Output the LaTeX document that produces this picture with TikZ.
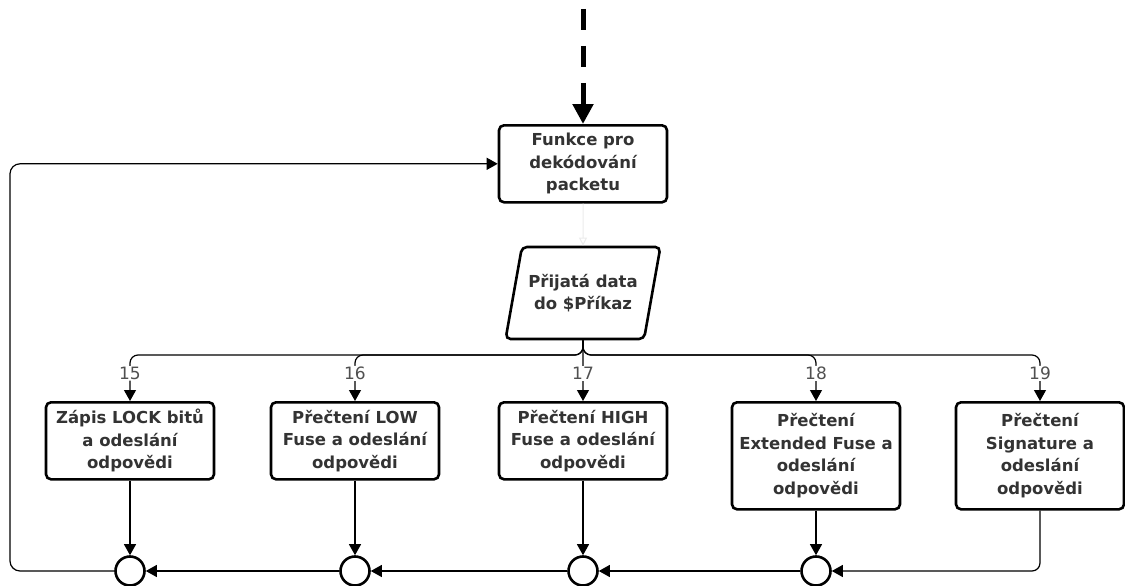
\documentclass[tikz,border=0pt]{standalone}
\usepackage{fontspec}
\setmainfont{DejaVu Sans}
\definecolor{textgray}{RGB}{51,51,51}
\definecolor{labelgray}{RGB}{80,80,80}
\usetikzlibrary{shapes.geometric,arrows.meta,calc}

\tikzset{
  block/.style={draw, line width=2.6pt, rounded corners=5pt, fill=white,
    text=textgray, font=\bfseries\fontsize{16.5}{22.5}\selectfont, align=center,
    minimum width=168pt, minimum height=77pt, inner sep=2pt, anchor=north},
  tall/.style={minimum height=107pt},
  data/.style={draw, trapezium, trapezium left angle=69, trapezium right angle=111,
    trapezium stretches=true, line width=2.6pt, rounded corners=5pt, fill=white,
    text=textgray, font=\bfseries\fontsize{16.5}{22.5}\selectfont, align=center,
    minimum width=155pt, minimum height=92pt, inner sep=0pt},
  joint/.style={draw, circle, line width=2.6pt, minimum size=29pt, inner sep=0pt, fill=white},
  flow/.style={line width=1.2pt, -{Triangle[length=11pt,width=12pt]}},
  inflow/.style={line width=5pt, dash pattern=on 21pt off 16pt,
    -{Triangle[length=20pt,width=20pt]}},
  caselabel/.style={fill=white, text=labelgray, font=\fontsize{17}{17}\selectfont, inner sep=1pt},
}

\begin{document}
\begin{tikzpicture}[x=1pt, y=-1pt]
    \useasboundingbox (0,0) rectangle (1125,586);

    % Decoder
    \coordinate (src) at (583,9);
    \node[block] (dec) at (583,124) {Funkce pro\\dekódování\\packetu};
    \draw[inflow] (src) -- (dec.north);

    % Received command
    \node[data] (par) at (583,293) {Přijatá data\\do \$Příkaz};
    \draw[line width=1pt, black!8, -{Triangle[open,length=8pt,width=8pt]}] (dec.south) -- (par.north);

    % Command handlers
    \node[block] (b15) at (130,401) {Zápis LOCK bitů\\a odeslání\\odpovědi};
    \node[block] (b16) at (355,401) {Přečtení LOW\\Fuse a odeslání\\odpovědi};
    \node[block] (b17) at (583,401) {Přečtení HIGH\\Fuse a odeslání\\odpovědi};
    \node[block, tall] (b18) at (816,401) {Přečtení\\Extended Fuse a\\odeslání\\odpovědi};
    \node[block, tall] (b19) at (1040,401) {Přečtení\\Signature a\\odeslání\\odpovědi};

    % Switch branches
    \coordinate (bus) at (583,355);
    \draw[flow, rounded corners=8pt] (par.south) -- (bus) -| (b15.north) node[caselabel, pos=0.7] {15};
    \draw[flow, rounded corners=8pt] (par.south) -- (bus) -| (b16.north) node[caselabel, pos=0.7] {16};
    \draw[flow] (par.south) -- (b17.north) node[caselabel, pos=0.55] {17};
    \draw[flow, rounded corners=8pt] (par.south) -- (bus) -| (b18.north) node[caselabel, pos=0.7] {18};
    \draw[flow, rounded corners=8pt] (par.south) -- (bus) -| (b19.north) node[caselabel, pos=0.7] {19};

    % Merge points
    \node[joint] (c15) at (130,571) {};
    \node[joint] (c16) at (355,571) {};
    \node[joint] (c17) at (583,571) {};
    \node[joint] (c18) at (816,571) {};

    \draw[flow] (b15.south) -- (c15.north);
    \draw[flow] (b16.south) -- (c16.north);
    \draw[flow] (b17.south) -- (c17.north);
    \draw[flow] (b18.south) -- (c18.north);
    \draw[flow, rounded corners=8pt] (b19.south) |- (c18.east);
    \draw[flow] (c18.west) -- (c17.east);
    \draw[flow] (c17.west) -- (c16.east);
    \draw[flow] (c16.west) -- (c15.east);

    % Back to the decoder
    \coordinate (loop) at (10,571);
    \draw[flow, rounded corners=10pt] (c15.west) -- (loop) |- (dec.west);
\end{tikzpicture}
\end{document}
